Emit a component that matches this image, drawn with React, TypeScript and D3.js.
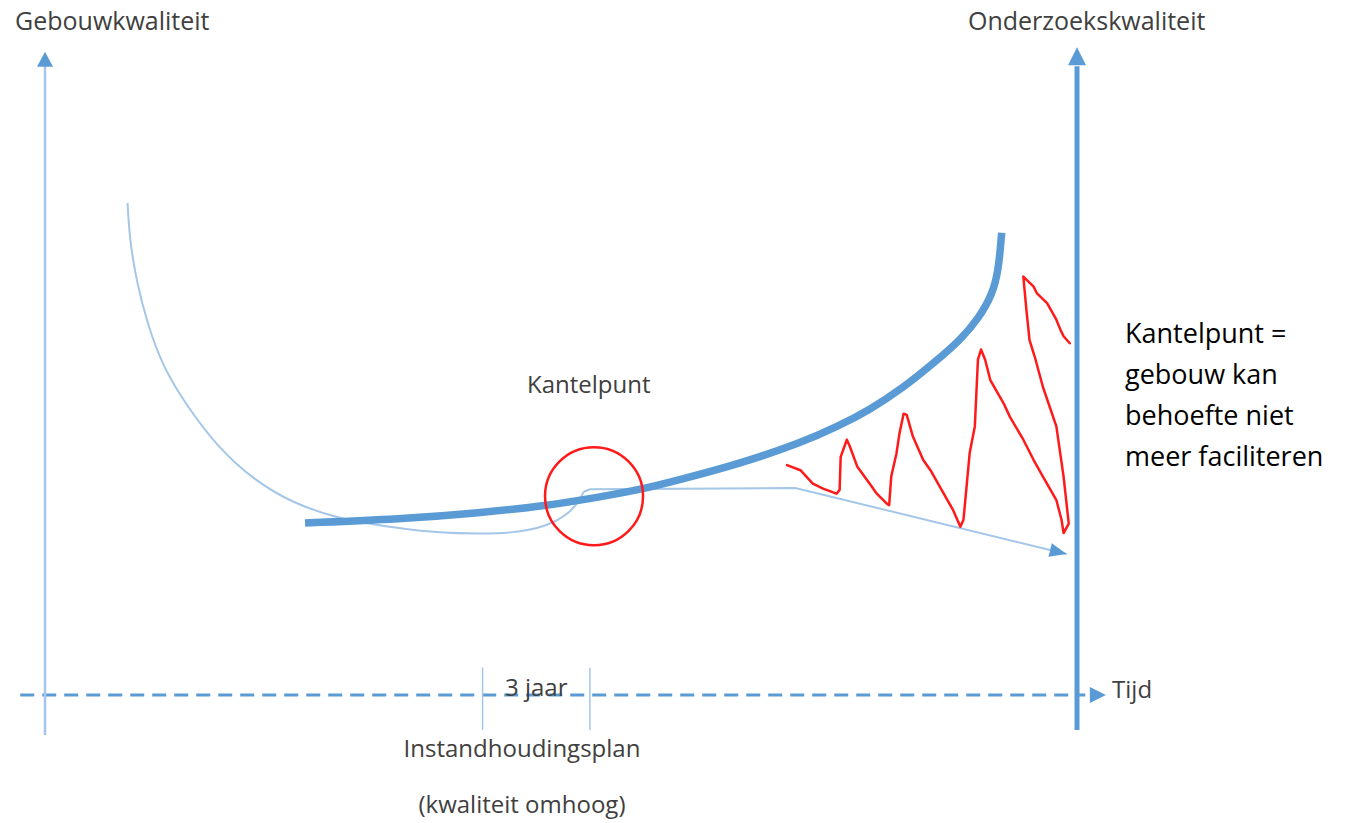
import * as d3 from 'd3';

const W = 1348;
const H = 823;

// tijd: 0 = linker as, 100 = rechter as; kwaliteit: 0 = tijdas
const gebouwCurve: [number, number][] = [
  [25.2, 27.1], [34.4, 27.7], [42.2, 28.7], [48.6, 29.8], [53.8, 31.2],
  [57.9, 32.4], [61.5, 33.9], [67.3, 36.4], [73.4, 39.8], [76.7, 42.2],
  [79.9, 44.9], [83.1, 48.3], [86.2, 52.4], [88.7, 55.9], [90.5, 59.4],
  [91.8, 63.1], [92.4, 66.9], [92.7, 72.8],
];

const oudeCurve: [number, number][] = [
  [8.0, 77.5], [8.2, 71.7], [8.9, 64.9], [9.9, 58.6], [11.4, 51.7],
  [13.8, 45.4], [16.7, 39.1], [20.2, 33.9], [24.0, 30.2], [28.3, 27.9],
  [31.0, 27.1], [34.1, 26.3], [38.3, 25.5], [42.2, 25.4], [45.3, 25.5],
  [48.6, 26.5], [50.9, 28.7], [51.8, 30.7], [52.2, 32.0],
];

const plateau: [number, number][] = [
  [52.2, 32.0], [52.8, 32.4], [72.7, 32.6], [99.0, 22.2],
];

const onderzoek: [number, number][] = [
  [71.9, 36.2], [73.2, 35.4], [74.4, 33.3], [75.4, 32.5], [76.7, 31.7],
  [77.0, 32.3], [77.1, 37.5], [77.7, 40.2], [78.0, 39.1], [78.7, 36.0],
  [79.9, 33.3], [80.6, 31.7], [81.6, 30.1], [81.8, 29.9], [82.0, 34.4],
  [82.5, 38.0], [82.8, 41.2], [83.2, 44.3], [83.5, 44.1], [84.1, 40.7],
  [85.1, 37.0], [85.8, 35.4], [86.7, 32.8], [88.0, 29.1], [88.7, 26.5],
  [89.0, 27.6], [89.6, 38.1], [90.1, 42.3], [90.4, 52.8], [90.7, 54.4],
  [91.1, 52.8], [91.6, 49.6], [92.9, 45.9], [93.5, 43.8], [94.8, 40.2],
  [95.8, 37.0], [96.7, 34.4], [98.0, 30.7], [98.5, 27.6], [98.7, 25.5],
  [99.2, 27.0], [98.7, 34.4], [98.0, 42.3], [96.7, 48.5], [95.9, 53.3],
  [95.4, 55.9], [95.1, 60.6], [94.8, 65.9], [95.1, 65.4], [95.8, 64.3],
  [96.1, 63.3], [97.1, 61.7], [98.0, 59.1], [98.4, 57.5], [98.7, 56.5],
  [99.3, 55.4],
];

const kantelpunt = { t: 53.2, q: 31.3, r: 4.75 };
const jaarTicks = [42.4, 52.8];
const uitleg = ['Kantelpunt =', 'gebouw kan', 'behoefte niet', 'meer faciliteren'];

const LIGHT = '#a4c6e8';
const BLUE = '#5b9bd5';
const GRAY = '#404040';
const FONT = '"Open Sans", sans-serif';

function arrowHead(tip: [number, number], from: [number, number], len: number, hw: number) {
  const dx = tip[0] - from[0];
  const dy = tip[1] - from[1];
  const d = Math.hypot(dx, dy);
  const ux = dx / d, uy = dy / d;
  const bx = tip[0] - ux * len, by = tip[1] - uy * len;
  return `M${tip[0]},${tip[1]}L${bx - uy * hw},${by + ux * hw}L${bx + uy * hw},${by - ux * hw}Z`;
}

export default function App() {
  const x = d3.scaleLinear().domain([0, 100]).range([45, 1077]);
  const y = d3.scaleLinear().domain([0, 100]).range([695, 60]);

  const smooth = d3.line<[number, number]>().x(d => x(d[0])).y(d => y(d[1])).curve(d3.curveBasis);
  const straight = d3.line<[number, number]>().x(d => x(d[0])).y(d => y(d[1]));

  const plEnd = plateau[plateau.length - 1];
  const plPrev = plateau[plateau.length - 2];

  return (
    <svg width={W} height={H} style={{ position: 'absolute', left: 0, top: 0, background: '#fff' }}>
      {/* tijdas (gestreept) */}
      <line x1={x(-2.4)} x2={x(100.8)} y1={y(0)} y2={y(0)} stroke={BLUE} strokeWidth={3} strokeDasharray="14 8" />
      <path d={arrowHead([x(102.8), y(0)], [x(100), y(0)], 16, 8)} fill={BLUE} />
      <text x={x(103.4)} y={y(0) + 3} fontFamily={FONT} fontSize={24} fill={GRAY}>Tijd</text>

      {/* 3 jaar markering */}
      {jaarTicks.map(t => (
        <line key={t} x1={x(t)} x2={x(t)} y1={y(4.3)} y2={y(-5.5)} stroke={LIGHT} strokeWidth={1.5} />
      ))}
      <text x={(x(jaarTicks[0]) + x(jaarTicks[1])) / 2} y={y(0) + 1} textAnchor="middle" fontFamily={FONT} fontSize={24} fill={GRAY}>3 jaar</text>
      <text x={522} y={757} textAnchor="middle" fontFamily={FONT} fontSize={24} fill={GRAY}>Instandhoudingsplan</text>
      <text x={522} y={813} textAnchor="middle" fontFamily={FONT} fontSize={24} fill={GRAY}>(kwaliteit omhoog)</text>

      {/* linker as */}
      <line x1={x(0)} x2={x(0)} y1={y(-6.3)} y2={y(99)} stroke={LIGHT} strokeWidth={2.5} />
      <path d={arrowHead([x(0), y(101.3)], [x(0), y(0)], 15, 8)} fill={BLUE} />
      <text x={15} y={30} fontFamily={FONT} fontSize={25} fill={GRAY}>Gebouwkwaliteit</text>

      {/* rechter as */}
      <line x1={x(100)} x2={x(100)} y1={y(-5.5)} y2={y(99)} stroke={BLUE} strokeWidth={5} />
      <path d={arrowHead([x(100), y(102)], [x(100), y(0)], 18, 9)} fill={BLUE} />
      <text x={968} y={30} fontFamily={FONT} fontSize={25} fill={GRAY}>Onderzoekskwaliteit</text>

      {/* oude kwaliteitscurve */}
      <path d={smooth(oudeCurve) ?? ''} fill="none" stroke={LIGHT} strokeWidth={2} />
      <path d={straight(plateau) ?? ''} fill="none" stroke={LIGHT} strokeWidth={2} />
      <path d={arrowHead([x(plEnd[0]), y(plEnd[1])], [x(plPrev[0]), y(plPrev[1])], 17, 7)} fill={BLUE} />

      {/* gebouwkwaliteit */}
      <path d={smooth(gebouwCurve) ?? ''} fill="none" stroke={BLUE} strokeWidth={7.5} />

      {/* onderzoekskwaliteit */}
      <path d={straight(onderzoek) ?? ''} fill="none" stroke="#ff1a1a" strokeWidth={2.5} strokeLinejoin="round" strokeLinecap="round" />

      {/* kantelpunt */}
      <circle cx={x(kantelpunt.t)} cy={y(kantelpunt.q)} r={x(kantelpunt.r) - x(0)} fill="none" stroke="#ff1a1a" strokeWidth={2.5} />
      <text x={527} y={393} fontFamily={FONT} fontSize={24} fill={GRAY}>Kantelpunt</text>

      {uitleg.map((s, i) => (
        <text key={s} x={1125} y={343 + i * 41} fontFamily={FONT} fontSize={27} fill="#000">{s}</text>
      ))}
    </svg>
  );
}
